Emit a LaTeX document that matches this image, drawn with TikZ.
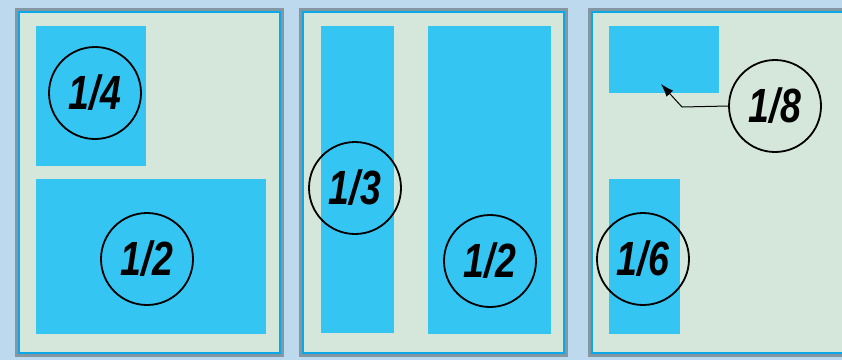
\documentclass[tikz,border=0pt]{standalone}
\usepackage{fontspec}
\setmainfont{Liberation Sans}
\newfontfamily\fracfont[FakeStretch=0.78]{Liberation Sans}
\usetikzlibrary{arrows.meta}

\definecolor{backfill}{HTML}{BCD9EE}
\definecolor{panelfill}{HTML}{D5E7DA}
\definecolor{panelline}{HTML}{0AA8E6}
\definecolor{partfill}{HTML}{35C5F2}

\tikzset{
    panel/.style={fill=panelfill, draw=panelline, line width=2.5pt},
    shade/.style={draw=black!80, line width=8pt, opacity=0.4},
    part/.style={fill=partfill},
    frac/.style={circle, draw, line width=1.8pt, minimum size=92pt, inner sep=0pt,
        font=\fracfont\fontsize{48}{48}\selectfont\bfseries\itshape}
}

\begin{document}
\begin{tikzpicture}[x=1pt, y=-1pt]
    \useasboundingbox (0,0) rectangle (842,360);
    \fill[backfill] (0,0) rectangle (842,360);

    % quarter and half
    \begin{scope}[xshift=19pt]
        \draw[shade] (0,12) rectangle (261,353);
        \draw[panel] (0,12) rectangle (261,353);
        \fill[part] (17,26) rectangle (127,166);
        \fill[part] (17,179) rectangle (247,334);
        \node[frac] (qa) at (76,93) {1/4};
        \node[frac] (ha) at (128,259) {1/2};
    \end{scope}

    % third and half
    \begin{scope}[xshift=303pt]
        \draw[shade] (0,12) rectangle (261,353);
        \draw[panel] (0,12) rectangle (261,353);
        \fill[part] (18,26) rectangle (91,333);
        \fill[part] (125,26) rectangle (248,334);
        \node[frac] (tb) at (52,188) {1/3};
        \node[frac] (hb) at (187,261) {1/2};
    \end{scope}

    % eighth and sixth
    \begin{scope}[xshift=592pt]
        \draw[shade] (0,12) rectangle (260,353);
        \draw[panel] (0,12) rectangle (260,353);
        \fill[part] (17,26) rectangle (127,93);
        \fill[part] (17,179) rectangle (88,334);
        \node[frac] (ec) at (183,106) {1/8};
        \node[frac] (sc) at (51,259) {1/6};
        \coordinate (bend) at (90,107);
        \coordinate (tip) at (69,84);
        \draw[line width=1pt, -{Latex[length=13pt, width=9pt]}] (ec.west) -- (bend) -- (tip);
    \end{scope}
\end{tikzpicture}
\end{document}
